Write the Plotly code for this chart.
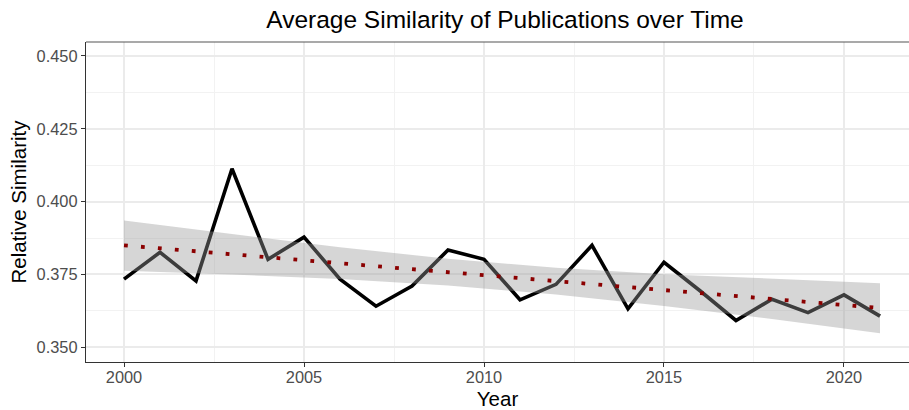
import plotly.graph_objects as go

# ---- data ----
years = list(range(2000, 2022))
similarity = [0.3734, 0.3826, 0.3728, 0.4113, 0.3802, 0.3878, 0.3734, 0.3641,
              0.3710, 0.3834, 0.3802, 0.3663, 0.3716, 0.3850, 0.3632, 0.3792,
              0.3694, 0.3592, 0.3665, 0.3619, 0.3680, 0.3607]

# linear trend (dotted) and its confidence band
trend_years = [2000, 2021]
trend_values = [0.3850, 0.3635]
band_years = [2000, 2003, 2006, 2009, 2012, 2015, 2018, 2021]
band_upper = [0.3935, 0.3888, 0.3843, 0.3804, 0.3773, 0.3751, 0.3735, 0.3720]
band_lower = [0.3763, 0.3750, 0.3734, 0.3712, 0.3681, 0.3642, 0.3597, 0.3548]

x_ticks = [2000, 2005, 2010, 2015, 2020]
y_ticks = [0.350, 0.375, 0.400, 0.425, 0.450]

title_text = "Average Similarity of Publications over Time"
x_title = "Year"
y_title = "Relative Similarity"

FONT = "Liberation Sans, Arial, sans-serif"

fig = go.Figure()

fig.add_trace(go.Scatter(
    x=years, y=similarity, mode="lines",
    line=dict(color="black", width=3.6),
    hoverinfo="skip", showlegend=False,
))

fig.add_trace(go.Scatter(
    x=band_years + band_years[::-1],
    y=band_upper + band_lower[::-1],
    mode="lines", fill="toself",
    fillcolor="rgba(153,153,153,0.4)",
    line=dict(width=0, color="rgba(0,0,0,0)"),
    hoverinfo="skip", showlegend=False,
))

fig.add_trace(go.Scatter(
    x=trend_years, y=trend_values, mode="lines",
    line=dict(color="#8B0000", width=3.8, dash="3.8px,13.2px"),
    hoverinfo="skip", showlegend=False,
))

axis_common = dict(
    showline=True, linecolor="#333333", linewidth=1.2,
    ticks="outside", ticklen=4, tickwidth=1.2, tickcolor="#333333",
    tickfont=dict(family=FONT, size=16.4, color="#4D4D4D"),
    showgrid=True, gridcolor="#EBEBEB", gridwidth=1.8,
    zeroline=False,
)

fig.update_layout(
    width=909, height=410,
    margin=dict(l=86, r=0, t=42, b=48),
    paper_bgcolor="white", plot_bgcolor="white",
    font=dict(family=FONT, color="black"),
    title=dict(text=title_text, font=dict(family=FONT, size=24.5, color="black"),
               x=505 / 909, xanchor="center", xref="container",
               y=1 - 19 / 410, yanchor="middle", yref="container"),
    xaxis=dict(
        range=[1998.944, 2021.806],
        tickmode="array", tickvals=x_ticks, ticktext=[str(v) for v in x_ticks],
        ticklabelstandoff=-4,
        minor=dict(tickmode="array", tickvals=[2002.5, 2007.5, 2012.5, 2017.5],
                   showgrid=True, gridcolor="#F2F2F2", gridwidth=1, ticks=""),
        title=dict(text=x_title, font=dict(family=FONT, size=20.5, color="black"),
                   standoff=8),
        **axis_common,
    ),
    yaxis=dict(
        range=[0.34495, 0.4548],
        tickmode="array", tickvals=y_ticks, ticktext=[f"{v:.3f}" for v in y_ticks],
        minor=dict(tickmode="array", tickvals=[0.3625, 0.3875, 0.4125, 0.4375],
                   showgrid=True, gridcolor="#F2F2F2", gridwidth=1, ticks=""),
        title=dict(text=y_title, font=dict(family=FONT, size=20.5, color="black"),
                   standoff=4),
        **axis_common,
    ),
    shapes=[dict(type="line", xref="paper", yref="paper", x0=0, x1=1, y0=1, y1=1,
                 line=dict(color="#555555", width=1.2))],
)

fig.write_html(
    "out.html",
    config={"displayModeBar": False},
    post_script="document.body.style.margin='0';document.body.style.padding='0';"
                "document.body.style.overflow='hidden';",
)
